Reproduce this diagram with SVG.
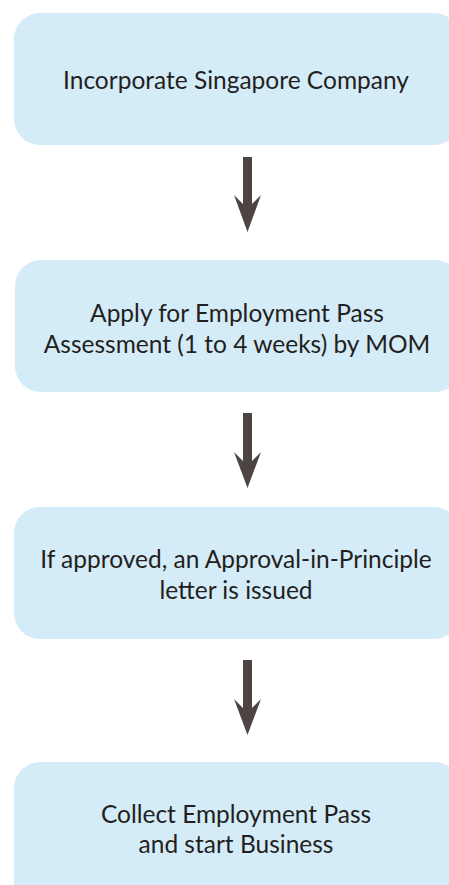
<svg xmlns="http://www.w3.org/2000/svg" width="449" height="885" viewBox="0 0 449 885">
<style>
.box{fill:#d4ebf8}
.t{font-family:Lato,"Open Sans","Liberation Sans",sans-serif;font-size:24.5px;fill:#231f20;text-anchor:middle}
.arr{fill:#4c4543}
</style>
<rect width="449" height="885" fill="#ffffff"/>
<g id="node1">
<rect class="box" x="14" y="13" width="446" height="132" rx="26"/>
<text class="t" x="236" y="89">Incorporate Singapore Company</text>
</g>
<g id="node2">
<rect class="box" x="15" y="260" width="446" height="132" rx="26"/>
<text class="t" x="237" y="322">Apply for Employment Pass</text>
<text class="t" x="237" y="353">Assessment (1 to 4 weeks) by MOM</text>
</g>
<g id="node3">
<rect class="box" x="14" y="507" width="446" height="132" rx="26"/>
<text class="t" x="236" y="568">If approved, an Approval-in-Principle</text>
<text class="t" x="236" y="599">letter is issued</text>
</g>
<g id="node4">
<rect class="box" x="14" y="762" width="446" height="150" rx="26"/>
<text class="t" x="236" y="823">Collect Employment Pass</text>
<text class="t" x="236" y="853">and start Business</text>
</g>
<g id="connectors">
<polygon class="arr" points="243,157 252,157 252,204 261,195 247.5,232 234,195 243,204"/>
<polygon class="arr" points="243,413 252,413 252,461 261,452 247.5,488 234,452 243,461"/>
<polygon class="arr" points="243,660 252,660 252,708 261,699 247.5,735 234,699 243,708"/>
</g>
</svg>
